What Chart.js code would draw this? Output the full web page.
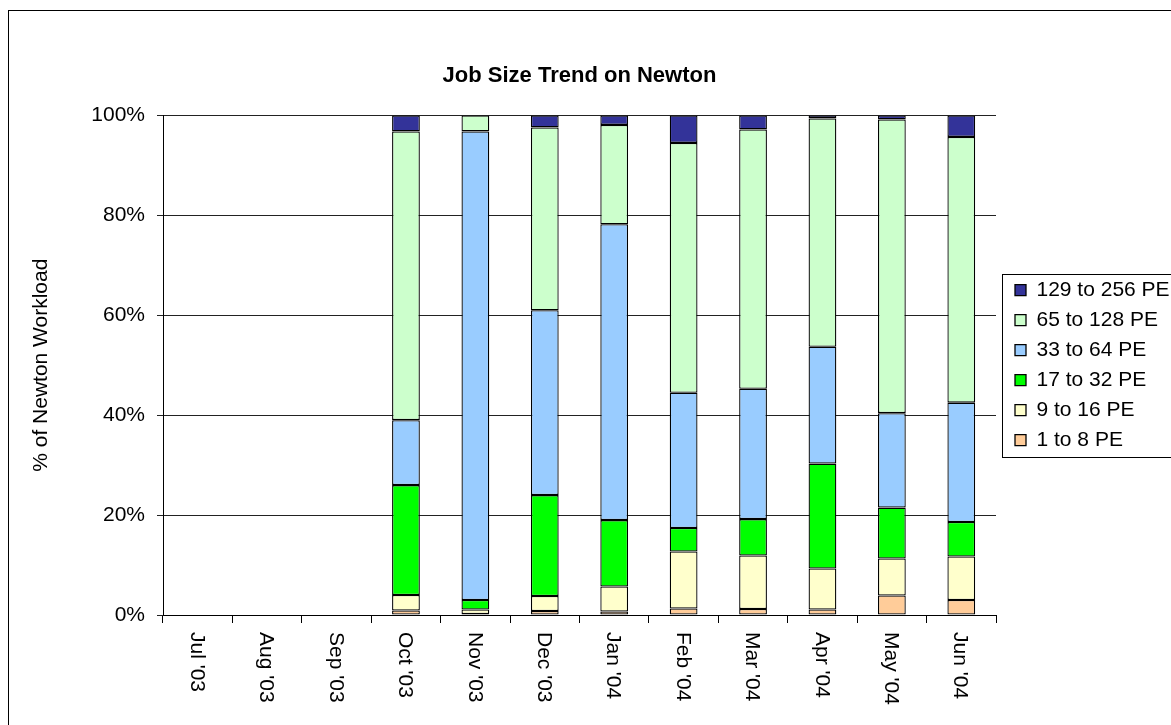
<!DOCTYPE html>
<html>
<head>
<meta charset="utf-8">
<title>Job Size Trend on Newton</title>
<script src="https://cdn.jsdelivr.net/npm/chart.js@4.4.1/dist/chart.umd.min.js"></script>
<style>
  html, body { margin: 0; padding: 0; background: #fff; }
</style>
</head>
<body>
<canvas id="chartCanvas" width="1171" height="725"></canvas>
<script>
const months = ["Jul '03", "Aug '03", "Sep '03", "Oct '03", "Nov '03", "Dec '03",
                "Jan '04", "Feb '04", "Mar '04", "Apr '04", "May '04", "Jun '04"];

// share of Newton workload, percent (no data before Oct '03)
const pe1to8    = [null, null, null, 0.9, 0.2, 0.8, 0.7, 1.3, 1.2, 1.1, 3.9, 3.0];
const pe9to16   = [null, null, null, 3.1, 0.9, 3.0, 5.0, 11.4, 10.7, 8.2, 7.4, 8.7];
const pe17to32  = [null, null, null, 22.0, 1.9, 20.2, 13.3, 4.7, 7.3, 21.0, 10.2, 6.9];
const pe33to64  = [null, null, null, 13.0, 93.8, 37.0, 59.2, 27.1, 26.1, 23.4, 18.9, 23.9];
const pe65to128 = [null, null, null, 57.8, 3.2, 36.6, 19.9, 50.0, 51.9, 45.7, 58.8, 53.2];
const pe129to256 = [null, null, null, 3.2, 0, 2.4, 1.9, 5.5, 2.8, 0.6, 0.8, 4.3];

const yTicks = [0, 20, 40, 60, 80, 100];

const FONT = '"Liberation Sans", Arial, sans-serif';
Chart.defaults.font.family = FONT;
Chart.defaults.font.size = 21;
Chart.defaults.color = '#000';

const chartContainer = document.getElementById('chartCanvas');

// frame, legend box and the downward-reading month labels
const decorations = {
  id: 'decorations',
  beforeLayout(chart) {
    const lg = chart.legend;
    if (lg && !lg._fixedWidth) {
      const fit = lg.fit;
      lg.fit = function () { fit.call(this); this.width = 175; };
      lg._fixedWidth = true;
    }
  },
  afterLayout(chart) {
    chart.legend.left += 10;
    chart.legend.right += 10;
  },
  beforeDraw(chart) {
    const ctx = chart.ctx;
    ctx.save();
    ctx.fillStyle = '#fff';
    ctx.fillRect(0, 0, chart.width, chart.height);
    ctx.strokeStyle = '#000';
    ctx.lineWidth = 1;
    ctx.strokeRect(8.5, 10.5, chart.width + 20, chart.height + 20);
    ctx.restore();
  },
  afterDraw(chart) {
    const ctx = chart.ctx;
    const x = chart.scales.x;
    ctx.save();
    ctx.font = '21px ' + FONT;
    ctx.fillStyle = '#000';
    ctx.textAlign = 'left';
    ctx.textBaseline = 'middle';
    months.forEach((m, i) => {
      ctx.save();
      ctx.translate(x.getPixelForTick(i) - 1, x.top + 17);
      ctx.rotate(Math.PI / 2);
      ctx.fillText(m, 0, 0);
      ctx.restore();
    });

    const lg = chart.legend;
    const hb = lg.legendHitBoxes;
    const top = Math.round(hb[0].top) - 6;
    const bottom = Math.round(hb[hb.length - 1].top + hb[hb.length - 1].height) + 6;
    ctx.strokeStyle = '#000';
    ctx.lineWidth = 1;
    ctx.strokeRect(Math.round(lg.left) - 3.5, top + 0.5, 300, bottom - top);
    ctx.restore();
  }
};

const data = {
  labels: months,
  datasets: [
    { label: '1 to 8 PE', data: pe1to8, backgroundColor: '#FFCC99' },
    { label: '9 to 16 PE', data: pe9to16, backgroundColor: '#FFFFCC' },
    { label: '17 to 32 PE', data: pe17to32, backgroundColor: '#00FF00' },
    { label: '33 to 64 PE', data: pe33to64, backgroundColor: '#99CCFF' },
    { label: '65 to 128 PE', data: pe65to128, backgroundColor: '#CCFFCC' },
    { label: '129 to 256 PE', data: pe129to256, backgroundColor: '#333399' },
  ].map(ds => Object.assign(ds, {
    borderColor: '#000',
    borderWidth: 1.3,
    borderSkipped: false,
    barPercentage: 0.4,
    categoryPercentage: 1,
  })),
};

const options = {
  responsive: false,
  devicePixelRatio: 1,
  animation: false,
  layout: { padding: 0 },
  plugins: {
    title: {
      display: true,
      text: 'Job Size Trend on Newton',
      fullSize: false,
      font: { size: 22, weight: 'bold' },
      padding: { top: 63, bottom: 26 },
    },
    legend: {
      position: 'right',
      fullSize: false,
      reverse: true,
      labels: {
        boxWidth: 11,
        boxHeight: 11,
        padding: 9,
        font: { size: 21 },
      },
    },
    tooltip: { enabled: false },
  },
  scales: {
    x: {
      stacked: true,
      afterFit: (scale) => { scale.height = 110; },
      grid: {
        offset: true,
        drawOnChartArea: false,
        drawTicks: true,
        tickLength: 8,
        color: '#000',
      },
      border: { color: '#000' },
      ticks: { display: false },
    },
    y: {
      stacked: true,
      min: 0,
      max: 100,
      afterFit: (scale) => { scale.width = 163; },
      afterBuildTicks: (scale) => { scale.ticks = yTicks.map(v => ({ value: v })); },
      grid: { color: '#222', tickLength: 6 },
      border: { color: '#000' },
      ticks: {
        padding: 12,
        callback: (v) => v + '%',
      },
      title: {
        display: true,
        text: '% of Newton Workload',
        font: { size: 21 },
        padding: { top: 29, bottom: 0 },
      },
    },
  },
};

const myChart = new Chart(chartContainer, {
  type: 'bar',
  data: data,
  options: options,
  plugins: [decorations],
});
</script>
</body>
</html>
